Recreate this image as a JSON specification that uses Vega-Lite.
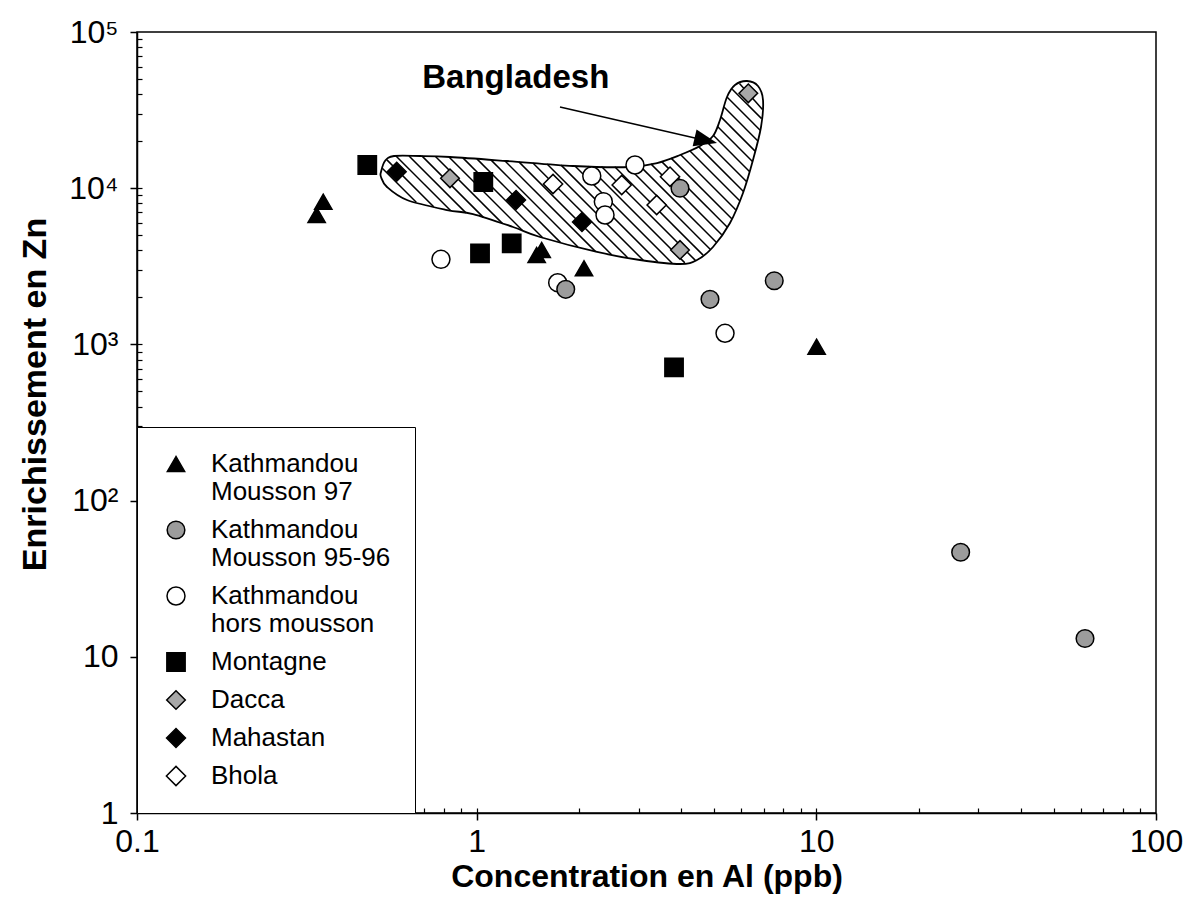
{
  "$schema": "https://vega.github.io/schema/vega-lite/v6.json",
  "width": 1019,
  "height": 781,
  "autosize": {"type": "none"},
  "padding": {"left": 137, "top": 32, "right": 28, "bottom": 87},
  "background": "white",
  "config": {
    "font": "Liberation Sans",
    "view": {"stroke": "black", "strokeWidth": 1.5},
    "axis": {"labelColor": "black", "titleColor": "black", "tickColor": "black", "domainColor": "black", "grid": false}
  },
  "resolve": {"scale": {"x": "independent", "y": "independent"}},
  "layer": [
    {
      "data": {"values": [
        {"lx1": -0.2778, "ly1": 4.1274, "lx2": -0.1777, "ly2": 3.9097},
        {"lx1": -0.2643, "ly1": 4.1812, "lx2": -0.1265, "ly2": 3.8816},
        {"lx1": -0.2375, "ly1": 4.2062, "lx2": -0.0770, "ly2": 3.8572},
        {"lx1": -0.1992, "ly1": 4.2062, "lx2": -0.0317, "ly2": 3.8419},
        {"lx1": -0.1607, "ly1": 4.2055, "lx2": 0.0198, "ly2": 3.8131},
        {"lx1": -0.1212, "ly1": 4.2030, "lx2": 0.0763, "ly2": 3.7734},
        {"lx1": -0.0815, "ly1": 4.1997, "lx2": 0.1349, "ly2": 3.7292},
        {"lx1": -0.0405, "ly1": 4.1940, "lx2": 0.1944, "ly2": 3.6831},
        {"lx1": 0.0007, "ly1": 4.1876, "lx2": 0.2465, "ly2": 3.6530},
        {"lx1": 0.0419, "ly1": 4.1812, "lx2": 0.2983, "ly2": 3.6236},
        {"lx1": 0.0828, "ly1": 4.1754, "lx2": 0.3501, "ly2": 3.5941},
        {"lx1": 0.1243, "ly1": 4.1684, "lx2": 0.3975, "ly2": 3.5743},
        {"lx1": 0.1655, "ly1": 4.1613, "lx2": 0.4446, "ly2": 3.5551},
        {"lx1": 0.2071, "ly1": 4.1549, "lx2": 0.4906, "ly2": 3.5384},
        {"lx1": 0.2486, "ly1": 4.1479, "lx2": 0.5332, "ly2": 3.5288},
        {"lx1": 0.2895, "ly1": 4.1421, "lx2": 0.5756, "ly2": 3.5199},
        {"lx1": 0.3286, "ly1": 4.1402, "lx2": 0.6130, "ly2": 3.5218},
        {"lx1": 0.3675, "ly1": 4.1389, "lx2": 0.6439, "ly2": 3.5378},
        {"lx1": 0.4064, "ly1": 4.1376, "lx2": 0.6666, "ly2": 3.5717},
        {"lx1": 0.4455, "ly1": 4.1357, "lx2": 0.6875, "ly2": 3.6095},
        {"lx1": 0.4797, "ly1": 4.1447, "lx2": 0.7055, "ly2": 3.6537},
        {"lx1": 0.5129, "ly1": 4.1556, "lx2": 0.7214, "ly2": 3.7023},
        {"lx1": 0.5441, "ly1": 4.1716, "lx2": 0.7373, "ly2": 3.7510},
        {"lx1": 0.5724, "ly1": 4.1927, "lx2": 0.7511, "ly2": 3.8041},
        {"lx1": 0.6007, "ly1": 4.2145, "lx2": 0.7626, "ly2": 3.8624},
        {"lx1": 0.6272, "ly1": 4.2401, "lx2": 0.7744, "ly2": 3.9200},
        {"lx1": 0.6534, "ly1": 4.2663, "lx2": 0.7855, "ly2": 3.9789},
        {"lx1": 0.6757, "ly1": 4.3009, "lx2": 0.7944, "ly2": 4.0429},
        {"lx1": 0.6966, "ly1": 4.3387, "lx2": 0.8032, "ly2": 4.1069},
        {"lx1": 0.7084, "ly1": 4.3963, "lx2": 0.8120, "ly2": 4.1709},
        {"lx1": 0.7190, "ly1": 4.4565, "lx2": 0.8197, "ly2": 4.2375},
        {"lx1": 0.7281, "ly1": 4.5198, "lx2": 0.8273, "ly2": 4.3041},
        {"lx1": 0.7370, "ly1": 4.5839, "lx2": 0.8347, "ly2": 4.3713},
        {"lx1": 0.7523, "ly1": 4.6338, "lx2": 0.8388, "ly2": 4.4456},
        {"lx1": 0.7738, "ly1": 4.6703, "lx2": 0.8415, "ly2": 4.5038}
      ]},
      "mark": {"type": "rule", "stroke": "black", "strokeWidth": 1.5},
      "encoding": {
        "x": {"field": "lx1", "type": "quantitative", "scale": {"domain": [-1, 2], "nice": false, "zero": false},
          "axis": {"orient": "bottom", "offset": -5, "title": null, "labels": false, "domain": false, "grid": false, "tickSize": 5, "tickWidth": 1.2,
            "values": [-0.699, -0.523, -0.398, -0.301, -0.222, -0.155, -0.097, -0.046, 0, 0.301, 0.477, 0.602, 0.699, 0.778, 0.845, 0.903, 0.954, 1, 1.301, 1.477, 1.602, 1.699, 1.778, 1.845, 1.903, 1.954]}},
        "y": {"field": "ly1", "type": "quantitative", "scale": {"domain": [0, 5], "nice": false, "zero": false},
          "axis": {"orient": "left", "offset": -5, "title": null, "labels": false, "domain": false, "grid": false, "tickSize": 5, "tickWidth": 1.2,
            "values": [0.301, 0.477, 0.602, 0.699, 0.778, 0.845, 0.903, 0.954, 1, 1.301, 1.477, 1.602, 1.699, 1.778, 1.845, 1.903, 1.954, 2, 2.301, 2.477, 2.602, 2.699, 2.778, 2.845, 2.903, 2.954, 3, 3.301, 3.477, 3.602, 3.699, 3.778, 3.845, 3.903, 3.954, 4, 4.301, 4.477, 4.602, 4.699, 4.778, 4.845, 4.903, 4.954]}},
        "x2": {"field": "lx2"},
        "y2": {"field": "ly2"}
      }
    },
    {
      "layer": [
        {
          "data": {"values": [
            {"i": 0, "lx": -0.2817, "ly": 4.1037},
            {"i": 1, "lx": -0.2699, "ly": 4.1741},
            {"i": 2, "lx": -0.2434, "ly": 4.2062},
            {"i": 3, "lx": -0.1668, "ly": 4.2062},
            {"i": 4, "lx": -0.0785, "ly": 4.1997},
            {"i": 5, "lx": 0.0893, "ly": 4.1741},
            {"i": 6, "lx": 0.2836, "ly": 4.1421},
            {"i": 7, "lx": 0.4514, "ly": 4.1357},
            {"i": 8, "lx": 0.5309, "ly": 4.1613},
            {"i": 9, "lx": 0.5986, "ly": 4.2126},
            {"i": 10, "lx": 0.6575, "ly": 4.2702},
            {"i": 11, "lx": 0.6958, "ly": 4.3342},
            {"i": 12, "lx": 0.7164, "ly": 4.4366},
            {"i": 13, "lx": 0.7370, "ly": 4.5839},
            {"i": 14, "lx": 0.7605, "ly": 4.6607},
            {"i": 15, "lx": 0.7959, "ly": 4.6863},
            {"i": 16, "lx": 0.8282, "ly": 4.6543},
            {"i": 17, "lx": 0.8430, "ly": 4.5647},
            {"i": 18, "lx": 0.8371, "ly": 4.3918},
            {"i": 19, "lx": 0.8135, "ly": 4.1805},
            {"i": 20, "lx": 0.7841, "ly": 3.9693},
            {"i": 21, "lx": 0.7458, "ly": 3.7772},
            {"i": 22, "lx": 0.6958, "ly": 3.6236},
            {"i": 23, "lx": 0.6487, "ly": 3.5403},
            {"i": 24, "lx": 0.5986, "ly": 3.5147},
            {"i": 25, "lx": 0.4808, "ly": 3.5403},
            {"i": 26, "lx": 0.3543, "ly": 3.5916},
            {"i": 27, "lx": 0.1864, "ly": 3.6876},
            {"i": 28, "lx": 0.1070, "ly": 3.7516},
            {"i": 29, "lx": -0.0108, "ly": 3.8348},
            {"i": 30, "lx": -0.0873, "ly": 3.8604},
            {"i": 31, "lx": -0.2051, "ly": 3.9245},
            {"i": 32, "lx": -0.2640, "ly": 4.0077},
            {"i": 33, "lx": -0.2817, "ly": 4.0717}
          ]},
          "mark": {"type": "line", "interpolate": "cardinal-closed", "stroke": "black", "strokeWidth": 1.8},
          "encoding": {
            "x": {"field": "lx", "type": "quantitative", "scale": {"domain": [-1, 2], "nice": false, "zero": false}, "axis": null},
            "y": {"field": "ly", "type": "quantitative", "scale": {"domain": [0, 5], "nice": false, "zero": false}, "axis": null},
            "order": {"field": "i", "type": "quantitative"}
          }
        },
        {
          "data": {"values": [{"lx1": 0.2453, "ly1": 4.5199, "lx2": 0.6746, "ly2": 4.3060}]},
          "mark": {"type": "rule", "stroke": "black", "strokeWidth": 1.5},
          "encoding": {
            "x": {"field": "lx1", "type": "quantitative", "scale": {"domain": [-1, 2], "nice": false, "zero": false}, "axis": null},
            "y": {"field": "ly1", "type": "quantitative", "scale": {"domain": [0, 5], "nice": false, "zero": false}, "axis": null},
            "x2": {"field": "lx2"},
            "y2": {"field": "ly2"}
          }
        },
        {
          "data": {"values": [{"lx": 0.6746, "ly": 4.3060}]},
          "mark": {"type": "point", "shape": "M1,0L-1,-0.75L-1,0.75Z", "filled": true, "color": "black", "size": 529, "angle": 13, "opacity": 1},
          "encoding": {
            "x": {"field": "lx", "type": "quantitative", "scale": {"domain": [-1, 2], "nice": false, "zero": false}, "axis": null},
            "y": {"field": "ly", "type": "quantitative", "scale": {"domain": [0, 5], "nice": false, "zero": false}, "axis": null}
          }
        },
        {
          "data": {"values": [{"lx": 0.1152, "ly": 4.6415, "label": "Bangladesh"}]},
          "mark": {"type": "text", "font": "Liberation Sans", "fontSize": 33, "fontWeight": "bold", "align": "center", "baseline": "alphabetic", "color": "black"},
          "encoding": {
            "x": {"field": "lx", "type": "quantitative", "scale": {"domain": [-1, 2], "nice": false, "zero": false}, "axis": null},
            "y": {"field": "ly", "type": "quantitative", "scale": {"domain": [0, 5], "nice": false, "zero": false}, "axis": null},
            "text": {"field": "label"}
          }
        }
      ]
    },
    {
      "data": {"values": [
        {"site": "Kathmandou Mousson 97", "al": 0.338, "zn": 6736},
        {"site": "Kathmandou Mousson 97", "al": 0.3535, "zn": 8196},
        {"site": "Kathmandou Mousson 97", "al": 1.554, "zn": 4022},
        {"site": "Kathmandou Mousson 97", "al": 1.502, "zn": 3736},
        {"site": "Kathmandou Mousson 97", "al": 2.07, "zn": 3071},
        {"site": "Kathmandou Mousson 97", "al": 10.02, "zn": 967},
        {"site": "Kathmandou hors mousson", "al": 0.785, "zn": 3506},
        {"site": "Kathmandou hors mousson", "al": 1.732, "zn": 2483},
        {"site": "Kathmandou hors mousson", "al": 2.182, "zn": 11970},
        {"site": "Kathmandou hors mousson", "al": 2.36, "zn": 8196},
        {"site": "Kathmandou hors mousson", "al": 2.387, "zn": 6736},
        {"site": "Kathmandou hors mousson", "al": 2.925, "zn": 14080},
        {"site": "Kathmandou hors mousson", "al": 5.385, "zn": 1178},
        {"site": "Kathmandou Mousson 95-96", "al": 1.829, "zn": 2253},
        {"site": "Kathmandou Mousson 95-96", "al": 3.968, "zn": 9986},
        {"site": "Kathmandou Mousson 95-96", "al": 4.863, "zn": 1944},
        {"site": "Kathmandou Mousson 95-96", "al": 7.518, "zn": 2557},
        {"site": "Kathmandou Mousson 95-96", "al": 26.6, "zn": 46.7},
        {"site": "Kathmandou Mousson 95-96", "al": 61.8, "zn": 13.1},
        {"site": "Montagne", "al": 0.4764, "zn": 14080},
        {"site": "Montagne", "al": 1.046, "zn": 10957},
        {"site": "Montagne", "al": 1.023, "zn": 3831},
        {"site": "Montagne", "al": 1.268, "zn": 4439},
        {"site": "Montagne", "al": 3.811, "zn": 713.5},
        {"site": "Dacca", "al": 0.8345, "zn": 11570},
        {"site": "Dacca", "al": 6.306, "zn": 40510},
        {"site": "Dacca", "al": 3.968, "zn": 4022},
        {"site": "Mahastan", "al": 0.5816, "zn": 12752},
        {"site": "Mahastan", "al": 1.306, "zn": 8404},
        {"site": "Mahastan", "al": 2.042, "zn": 6076},
        {"site": "Bhola", "al": 1.678, "zn": 10640},
        {"site": "Bhola", "al": 2.673, "zn": 10484},
        {"site": "Bhola", "al": 3.709, "zn": 11847},
        {"site": "Bhola", "al": 3.388, "zn": 7806}
      ]},
      "mark": {"type": "point", "filled": true, "stroke": "black", "strokeWidth": 1.5, "opacity": 1},
      "encoding": {
        "x": {"field": "al", "type": "quantitative", "scale": {"type": "log", "domain": [0.1, 100], "nice": false},
          "axis": {"orient": "bottom", "values": [0.1, 1, 10, 100], "format": "~g", "title": "Concentration en Al (ppb)",
            "titleFont": "Liberation Sans", "titleFontSize": 32, "titleFontWeight": "bold", "titlePadding": 4,
            "labelFont": "Liberation Sans", "labelFontSize": 32, "labelPadding": 6, "labelFlush": false, "labelOverlap": false,
            "tickSize": 7, "tickWidth": 1.5, "domainWidth": 1.5, "grid": false}},
        "y": {"field": "zn", "type": "quantitative", "scale": {"type": "log", "domain": [1, 100000], "nice": false},
          "axis": {"orient": "left", "values": [1, 10, 100, 1000, 10000, 100000],
            "labelExpr": "datum.value < 5 ? '1' : datum.value < 50 ? '10' : datum.value < 500 ? '10²' : datum.value < 5000 ? '10³' : datum.value < 50000 ? '10⁴' : '10⁵'",
            "title": "Enrichissement en Zn", "titleFont": "Liberation Sans", "titleFontSize": 34, "titleFontWeight": "bold", "titlePadding": 16, "titleY": 362,
            "labelFont": "Liberation Sans", "labelFontSize": 32, "labelPadding": 12, "labelFlush": false, "labelOverlap": false,
            "tickSize": 7, "tickWidth": 1.5, "domainWidth": 1.5, "grid": false}},
        "fill": {"field": "site", "type": "nominal",
          "scale": {"domain": ["Kathmandou Mousson 97", "Kathmandou Mousson 95-96", "Kathmandou hors mousson", "Montagne", "Dacca", "Mahastan", "Bhola"],
            "range": ["black", "#9c9c9c", "white", "black", "#a8a8a8", "black", "white"]},
          "legend": {"orient": "bottom-left", "offset": 0, "title": null, "strokeColor": "black", "fillColor": "white", "padding": 24,
            "labelFont": "Liberation Sans", "labelFontSize": 26, "labelColor": "black", "labelLimit": 400,
            "symbolStrokeColor": "black", "symbolStrokeWidth": 1.5, "rowPadding": 12, "labelOffset": 22, "symbolOffset": 2,
            "labelExpr": "indexof(datum.label, 'Kathmandou ') == 0 ? ['Kathmandou', slice(datum.label, 11)] : datum.label"}},
        "shape": {"field": "site", "type": "nominal",
          "scale": {"domain": ["Kathmandou Mousson 97", "Kathmandou Mousson 95-96", "Kathmandou hors mousson", "Montagne", "Dacca", "Mahastan", "Bhola"],
            "range": ["triangle-up", "circle", "circle", "square", "diamond", "diamond", "diamond"]}},
        "size": {"field": "site", "type": "nominal",
          "scale": {"domain": ["Kathmandou Mousson 97", "Kathmandou Mousson 95-96", "Kathmandou hors mousson", "Montagne", "Dacca", "Mahastan", "Bhola"],
            "range": [300, 370, 380, 400, 500, 500, 500]}}
      }
    }
  ]
}
